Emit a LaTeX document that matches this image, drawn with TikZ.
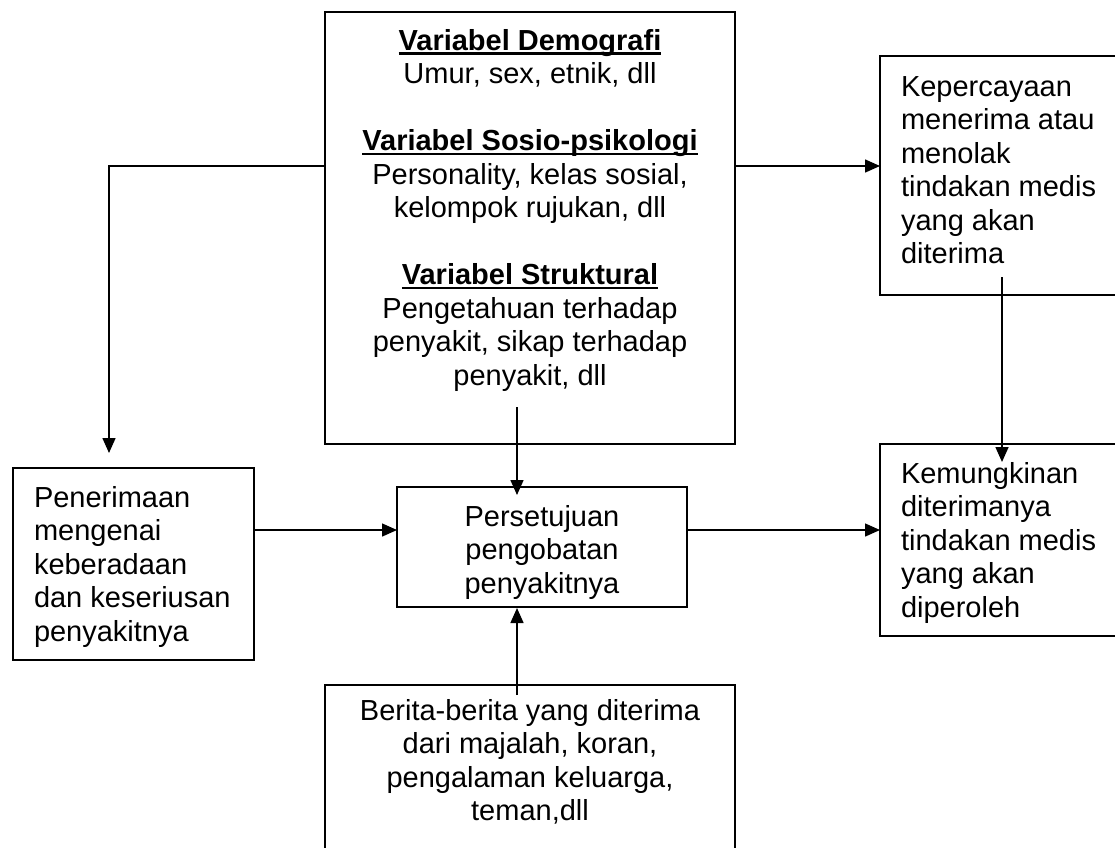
\documentclass[tikz,border=0pt]{standalone}
\usepackage{fontspec}
\setmainfont{Liberation Sans}
\usetikzlibrary{arrows.meta,calc}
\newcommand\ulx[1]{\setbox0\hbox{#1}\rlap{\rule[-4.5pt]{\wd0}{2.2pt}}\box0}
\begin{document}
\begin{tikzpicture}[x=1pt,y=-1pt,
  box/.style={draw,line width=1.8pt,rectangle,inner sep=0pt,outer sep=0pt},
  txt/.style={inner sep=0pt,outer sep=0pt,font=\fontsize{29}{33.5}\selectfont},
  arr/.style={line width=1.5pt,-{Triangle[length=15pt,width=13pt]}}]
\useasboundingbox (0,0) rectangle (1115,847);
\fill[white] (0,0) rectangle (1115,847);

% boxes
\node[box,minimum width=410pt,minimum height=432pt] (demo) at (530,228) {};
\node[box,minimum width=244pt,minimum height=239pt] (kep) at (1002,175.5) {};
\node[box,minimum width=244pt,minimum height=192pt] (kem) at (1002,540) {};
\node[box,minimum width=241pt,minimum height=192pt] (pen) at (133.5,564) {};
\node[box,minimum width=290pt,minimum height=120pt] (per) at (542,547) {};
\node[box,minimum width=410pt,minimum height=175pt] (ber) at (530,772.5) {};

% texts
\node[txt,anchor=base] (demotxt) at (530,50) {\begin{tabular}[t]{@{}c@{}}
\ulx{\bfseries Variabel Demografi}\\
Umur, sex, etnik, dll\\
\\
\ulx{\bfseries Variabel Sosio-psikologi}\\
Personality, kelas sosial,\\
kelompok rujukan, dll\\
\\
\ulx{\bfseries Variabel Struktural}\\
Pengetahuan terhadap\\
penyakit, sikap terhadap\\
penyakit, dll
\end{tabular}};
\node[txt,anchor=base west] (keptxt) at (901,96) {\begin{tabular}[t]{@{}l@{}}
Kepercayaan\\ menerima atau\\ menolak\\ tindakan medis\\ yang akan\\ diterima
\end{tabular}};
\node[txt,anchor=base west] (kemtxt) at (901,483) {\begin{tabular}[t]{@{}l@{}}
Kemungkinan\\ diterimanya\\ tindakan medis\\ yang akan\\ diperoleh
\end{tabular}};
\node[txt,anchor=base west] (pentxt) at (34,507) {\begin{tabular}[t]{@{}l@{}}
Penerimaan\\ mengenai\\ keberadaan\\ dan keseriusan\\ penyakitnya
\end{tabular}};
\node[txt,anchor=base] (pertxt) at (542,526) {\begin{tabular}[t]{@{}c@{}}
Persetujuan\\ pengobatan\\ penyakitnya
\end{tabular}};
\node[txt,anchor=base] (bertxt) at (530,720) {\begin{tabular}[t]{@{}c@{}}
Berita-berita yang diterima\\ dari majalah, koran,\\ pengalaman keluarga,\\ teman,dll
\end{tabular}};

% connector helper coordinates
\coordinate (c1) at (109,166);
\coordinate (c2) at (517,407);
\coordinate (c3) at (0,530);
\coordinate (c4) at (517,695);
\coordinate (c5) at (1002,277);

% connectors
\draw[arr] (demo.west |- c1) -- (c1) -- ($(c1 |- pen.north)+(0,-15)$);
\draw[arr] (demo.east |- c1) -- (kep.west |- c1);
\draw[arr] (c2) -- ($(c2 |- per.north)+(0,8)$);
\draw[arr] (pen.east |- c3) -- (per.west |- c3);
\draw[arr] (per.east |- c3) -- (kem.west |- c3);
\draw[arr] (c4) -- ($(c4 |- per.south)+(0,1)$);
\draw[arr] (c5) -- ($(c5 |- kem.north)+(0,18)$);
\end{tikzpicture}
\end{document}
